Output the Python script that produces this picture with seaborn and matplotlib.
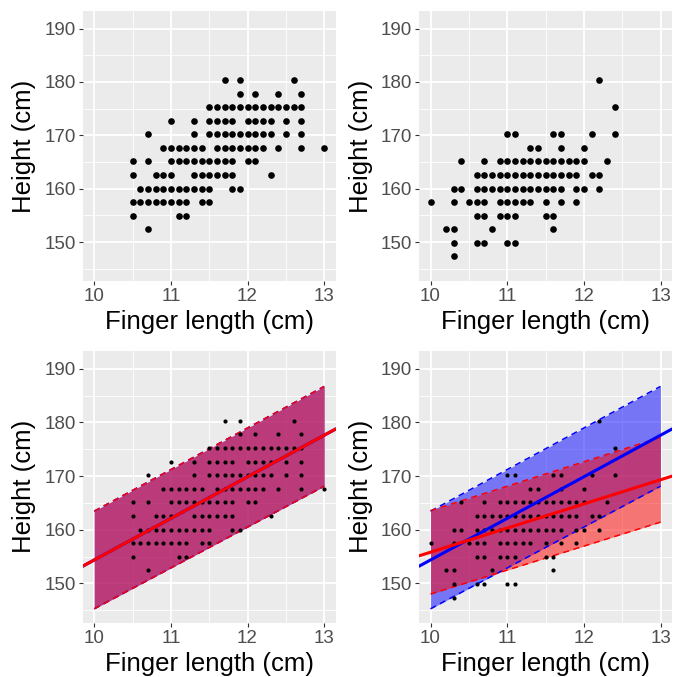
import numpy as np
import pandas as pd
import matplotlib
matplotlib.use("Agg")
import matplotlib.pyplot as plt
from matplotlib.ticker import MultipleLocator
import seaborn as sns

# ---------------- data ----------------
# Group 1 (top-left panel, also bottom-left)
g1_finger = [
    11.7, 11.9, 12.6,
    11.9, 12.1, 12.4, 12.7,
    11.5, 11.6, 11.7, 11.8, 11.9, 12.0, 12.1, 12.2, 12.3, 12.4, 12.5, 12.6, 12.7,
    11.0, 11.3, 11.5, 11.6, 11.7, 11.8, 12.0, 12.1, 12.2, 12.3, 12.5, 12.7,
    10.7, 11.3, 11.5, 11.6, 11.7, 11.8, 11.9, 12.0, 12.1, 12.2, 12.3, 12.5, 12.7,
    10.9, 11.0, 11.1, 11.2, 11.3, 11.4, 11.6, 11.7, 11.8, 11.9, 12.0, 12.1, 12.2, 12.4, 12.7, 13.0,
    10.5, 10.7, 11.0, 11.1, 11.2, 11.3, 11.4, 11.5, 11.6, 11.7, 11.8, 12.0, 12.1,
    10.5, 10.8, 10.9, 11.0, 11.3, 11.4, 11.5, 11.6, 11.7, 11.8, 12.3,
    10.6, 10.7, 10.8, 10.9, 11.0, 11.1, 11.2, 11.3, 11.4, 11.5, 11.8, 11.9,
    10.5, 10.6, 10.7, 10.8, 10.9, 11.0, 11.1, 11.2, 11.4, 11.5,
    10.5, 11.1, 11.2,
    10.7,
]
g1_height = (
    [180.3] * 3 + [177.8] * 4 + [175.3] * 13 + [172.7] * 12 + [170.2] * 13
    + [167.6] * 16 + [165.1] * 13 + [162.6] * 11 + [160.0] * 12
    + [157.5] * 10 + [154.9] * 3 + [152.4] * 1
)

# Group 2 (top-right panel, also bottom-right)
g2_finger = [
    12.2,
    12.4,
    11.0, 11.1, 11.6, 11.7, 12.1, 12.4,
    11.3, 11.4, 11.7, 12.0,
    10.4, 10.7, 10.9, 11.0, 11.1, 11.2, 11.3, 11.4, 11.5, 11.6, 11.7, 11.8, 11.9, 12.0, 12.3,
    10.6, 10.7, 10.8, 10.9, 11.0, 11.1, 11.2, 11.3, 11.4, 11.5, 11.6, 11.7, 11.8, 11.9, 12.1, 12.2,
    10.3, 10.4, 10.6, 10.7, 10.8, 10.9, 11.0, 11.1, 11.2, 11.3, 11.4, 11.5, 11.6, 11.7, 11.9, 12.0, 12.2,
    10.0, 10.3, 10.5, 10.6, 10.7, 10.9, 11.0, 11.1, 11.2, 11.3, 11.5, 11.7, 11.9,
    10.6, 10.7, 10.9, 11.0, 11.1, 11.5, 11.6,
    10.2, 10.3, 10.8, 11.6,
    10.3, 10.6, 10.7, 11.0, 11.1,
    10.3,
]
g2_height = (
    [180.3] * 1 + [175.3] * 1 + [170.2] * 6 + [167.6] * 4 + [165.1] * 15
    + [162.6] * 16 + [160.0] * 17 + [157.5] * 13 + [154.9] * 7
    + [152.4] * 4 + [149.9] * 5 + [147.3] * 1
)

# fitted lines (value at finger length 10 cm, slope) and prediction bands
blue_fit = [154.35, 7.75]
red_fit = [155.8, 4.50]
band_x = [10, 13]
blue_lower = [145.25, 168.1]
blue_upper = [163.45, 186.7]
red_lower = [148.0, 161.4]
red_upper = [163.55, 177.2]

x_ticks = [10, 11, 12, 13]
y_ticks = [150, 160, 170, 180, 190]
x_title = "Finger length (cm)"
y_title = "Height (cm)"

g1 = pd.DataFrame({"finger": g1_finger, "height": g1_height})
g2 = pd.DataFrame({"finger": g2_finger, "height": g2_height})

# ---------------- style ----------------
sns.set_theme(style="darkgrid", rc={
    "axes.facecolor": "#EBEBEB",
    "grid.color": "white",
    "axes.edgecolor": "none",
    "xtick.bottom": True,
    "ytick.left": True,
})
plt.rcParams["font.family"] = ["Liberation Sans", "DejaVu Sans"]

W, H = 673, 677
fig = plt.figure(figsize=(W / 100, H / 100), dpi=100)


def add_ax(l, r, t, b):
    return fig.add_axes([l / W, 1 - b / H, (r - l) / W, (b - t) / H])


def style(ax, height_px):
    ax.set_xlim(9.85, 13.15)
    ax.set_ylim(142.7, 193.3)
    ax.set_xticks(x_ticks)
    ax.set_yticks(y_ticks)
    ax.xaxis.set_minor_locator(MultipleLocator(0.5))
    ax.yaxis.set_minor_locator(MultipleLocator(5))
    ax.grid(which="major", color="white", lw=1.3)
    ax.grid(which="minor", color="white", lw=0.6)
    ax.set_axisbelow(True)
    ax.tick_params(which="major", length=2.6, width=0.8, color="#333333",
                   labelcolor="#4D4D4D", labelsize=13.5, pad=2.5)
    ax.tick_params(which="minor", length=0)
    for s in ax.spines.values():
        s.set_visible(False)
    ax.set_xlabel(x_title, fontsize=18.5, color="black")
    ax.set_ylabel(y_title, fontsize=18.5, color="black")
    ax.xaxis.set_label_coords(0.5, -41 / height_px)
    ax.xaxis.label.set_va("center")
    ax.yaxis.set_label_coords((24.5 - 82.7) / 253, 0.5)
    ax.yaxis.label.set_va("center")


def band(ax, lower, upper, color):
    ax.fill_between(band_x, lower, upper, color=color, alpha=0.5, lw=0, zorder=1)
    ax.plot(band_x, lower, color=color, lw=1.1, ls=(0, (4, 3)), zorder=1.5)
    ax.plot(band_x, upper, color=color, lw=1.1, ls=(0, (4, 3)), zorder=1.5)


def fit_line(ax, fit, color):
    ax.axline((10, fit[0]), slope=fit[1], color=color, lw=2.2, zorder=4)


ax1 = add_ax(82.7, 335.7, 11, 281)
ax2 = add_ax(419, 672, 11, 281)
ax3 = add_ax(82.7, 335.7, 351, 622.5)
ax4 = add_ax(419, 672, 351, 622.5)

sns.scatterplot(data=g1, x="finger", y="height", ax=ax1, color="black",
                s=23, linewidth=0, legend=False, zorder=3)
sns.scatterplot(data=g2, x="finger", y="height", ax=ax2, color="black",
                s=23, linewidth=0, legend=False, zorder=3)

# bottom-left: group 1 model drawn in both colours
band(ax3, blue_lower, blue_upper, "blue")
band(ax3, blue_lower, blue_upper, "red")
sns.scatterplot(data=g1, x="finger", y="height", ax=ax3, color="black",
                s=9, linewidth=0, legend=False, zorder=3)
fit_line(ax3, blue_fit, "blue")
fit_line(ax3, blue_fit, "red")

# bottom-right: group 1 model (blue) and group 2 model (red)
band(ax4, blue_lower, blue_upper, "blue")
band(ax4, red_lower, red_upper, "red")
sns.scatterplot(data=g2, x="finger", y="height", ax=ax4, color="black",
                s=9, linewidth=0, legend=False, zorder=3)
fit_line(ax4, blue_fit, "blue")
fit_line(ax4, red_fit, "red")

for ax, (t, b) in zip([ax1, ax2, ax3, ax4],
                      [(11, 281), (11, 281), (351, 622.5), (351, 622.5)]):
    style(ax, b - t)

fig.savefig("out.png", dpi=100)
